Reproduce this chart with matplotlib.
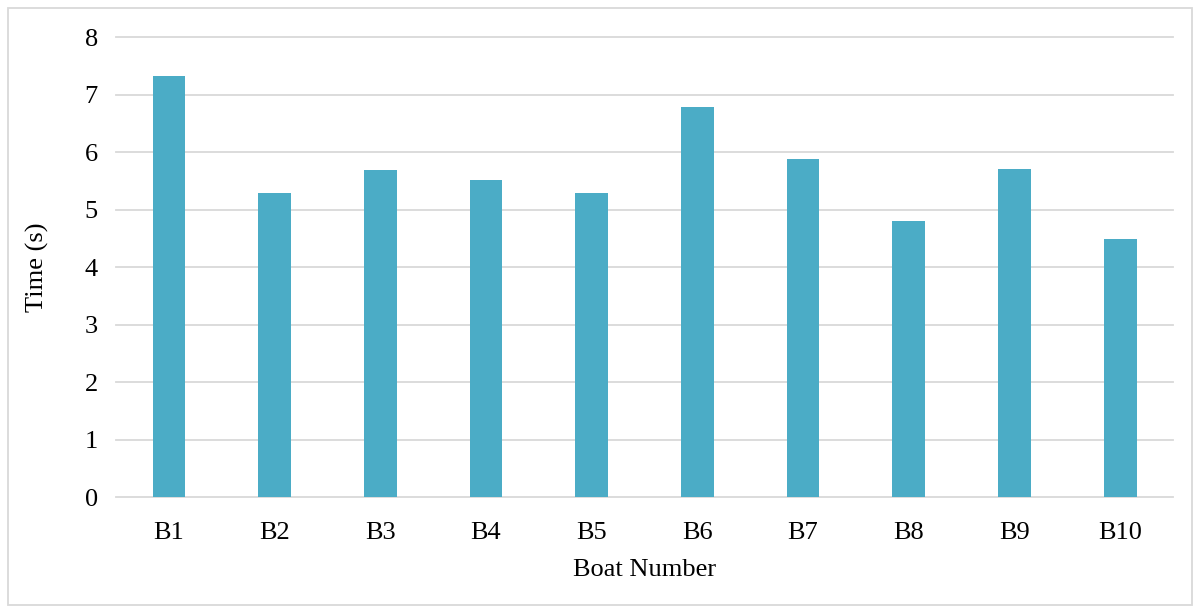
import matplotlib.pyplot as plt
from matplotlib.patches import Rectangle

# boat trial times
boats = ['B1', 'B2', 'B3', 'B4', 'B5', 'B6', 'B7', 'B8', 'B9', 'B10']
times = [7.33, 5.29, 5.69, 5.51, 5.29, 6.79, 5.89, 4.81, 5.71, 4.49]

plt.rcParams['font.family'] = ['Liberation Serif', 'DejaVu Serif']

fig = plt.figure(figsize=(12, 6.1), dpi=100)
ax = fig.add_axes([0.0967, 0.185, 0.8808, 0.754])

# light frame round the whole chart
fig.patches.append(Rectangle((0.007, 0.008), 0.986, 0.979, transform=fig.transFigure,
                             fill=False, edgecolor='#d9d9d9', linewidth=1.3))

x = range(len(boats))
ax.bar(x, times, width=0.31, color='#4bacc6', zorder=3)

ax.set_ylim(0, 8)
ax.set_xlim(-0.5, len(boats) - 0.5)
ax.set_yticks(range(0, 9))
ax.set_xticks(list(x))
ax.set_xticklabels(boats)
ax.grid(axis='y', color='#d9d9d9', linewidth=1.3, zorder=0)
for gl in ax.get_ygridlines():
    gl.set_clip_on(False)
ax.tick_params(axis='both', length=0, labelsize=19)
ax.tick_params(axis='x', pad=18)
ax.tick_params(axis='y', pad=13)
for s in ax.spines.values():
    s.set_visible(False)

ax.set_xlabel('Boat Number', fontsize=19, labelpad=11)
ax.set_ylabel('Time (s)', fontsize=19, labelpad=26)

fig.savefig('out.png')
